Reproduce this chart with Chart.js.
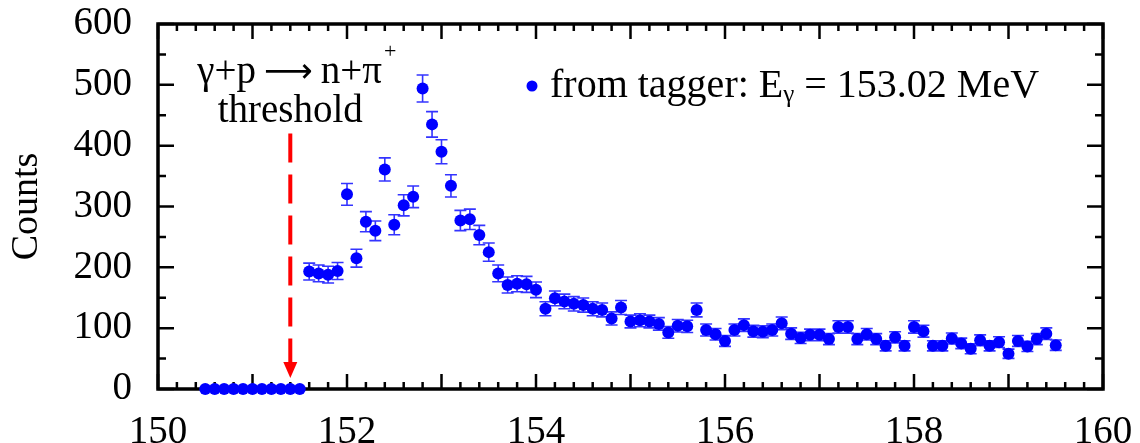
<!DOCTYPE html>
<html><head><meta charset="utf-8">
<script src="https://cdn.jsdelivr.net/npm/chart.js@4"></script>
<style>html,body{margin:0;padding:0;background:#fff;}canvas{display:block}</style>
</head><body>
<canvas id="c" width="1140" height="443"></canvas>
<script>
// ---- data ----
const energies = [
150.5,150.6,150.7,150.8,150.9,151.0,151.1,151.2,151.3,151.4,151.5,
151.6,151.7,151.8,151.9,
152.0,152.1,152.2,152.3,152.4,152.5,152.6,152.7,152.8,152.9,
153.0,153.1,153.2,153.3,153.4,153.5,153.6,153.7,153.8,153.9,
154.0,154.1,154.2,154.3,154.4,154.5,154.6,154.7,154.8,154.9,
155.0,155.1,155.2,155.3,155.4,155.5,155.6,155.7,155.8,155.9,
156.0,156.1,156.2,156.3,156.4,156.5,156.6,156.7,156.8,156.9,
157.0,157.1,157.2,157.3,157.4,157.5,157.6,157.7,157.8,157.9,
158.0,158.1,158.2,158.3,158.4,158.5,158.6,158.7,158.8,158.9,
159.0,159.1,159.2,159.3,159.4,159.5];
const counts = [
0,0,0,0,0,0,0,0,0,0,0,
193,190,188,194,
320,215,275,260,361,270,302,316,494,435,
390,334,277,279,253,225,190,171,173,172,
163,132,149,144,140,138,132,130,116,134,
111,113,111,107,93,104,103,130,97,90,
79,97,105,95,94,97,108,91,84,89,
89,82,102,102,82,90,82,71,85,71,
102,95,71,71,83,75,66,80,71,77,
58,79,70,82,91,72];
const errors = [
0,0,0,0,0,0,0,0,0,0,0,
13.9,13.8,13.7,13.9,
17.9,14.7,16.6,16.1,19.0,16.4,17.4,17.8,22.2,20.9,
19.7,18.3,16.6,16.7,15.9,15.0,13.8,13.1,13.2,13.1,
12.8,11.5,12.2,12.0,11.8,11.7,11.5,11.4,10.8,11.6,
10.5,10.6,10.5,10.3,9.6,10.2,10.1,11.4,9.8,9.5,
8.9,9.8,10.2,9.7,9.7,9.8,10.4,9.5,9.2,9.4,
9.4,9.1,10.1,10.1,9.1,9.5,9.1,8.4,9.2,8.4,
10.1,9.7,8.4,8.4,9.1,8.7,8.1,8.9,8.4,8.8,
7.6,8.9,8.4,9.1,9.5,8.5];
const xTicks = [150,152,154,156,158,160];
const yTicks = [0,100,200,300,400,500,600];
const xMinorStep = 0.2, xMajorStep = 1;
const yMinorStep = 50, yMajorStep = 100;
const thresholdE = 151.4, arrowFrom = 420, arrowTo = 18;
const legendLabel = ['from tagger: E', 'γ', ' = 153.02 MeV'];
const reaction = ['γ+p', '⟶', 'n+π', '+'];
const thresholdLabel = 'threshold';

const FONT = '"Liberation Serif", "Times New Roman", serif';
const ARROWFONT = '"DejaVu Sans", "Liberation Serif", serif';
const BLUE = '#0000ff';
const ERRBLUE = '#3434ff';

const extras = {
  id: 'extras',
  beforeDatasetsDraw(chart) {
    const {ctx, chartArea: a, scales: {x, y}} = chart;
    ctx.save();
    ctx.strokeStyle = '#000';
    ctx.lineWidth = 2.5;
    ctx.beginPath();
    const nx = Math.round((x.max - x.min) / xMinorStep);
    for (let k = 0; k <= nx; k++) {
      const v = x.min + k * xMinorStep;
      const px = x.getPixelForValue(v);
      const major = Math.abs(v / xMajorStep - Math.round(v / xMajorStep)) < 1e-6;
      const L = major ? 15 : 7;
      ctx.moveTo(px, a.bottom); ctx.lineTo(px, a.bottom - L);
      ctx.moveTo(px, a.top); ctx.lineTo(px, a.top + L);
    }
    const ny = Math.round((y.max - y.min) / yMinorStep);
    for (let k = 0; k <= ny; k++) {
      const v = y.min + k * yMinorStep;
      const py = y.getPixelForValue(v);
      const major = v % yMajorStep === 0;
      const L = major ? 16 : 8;
      ctx.moveTo(a.left, py); ctx.lineTo(a.left + L, py);
      ctx.moveTo(a.right, py); ctx.lineTo(a.right - L, py);
    }
    ctx.stroke();
    ctx.lineWidth = 3.5;
    ctx.strokeRect(a.left, a.top, a.right - a.left, a.bottom - a.top);

    // error bars
    ctx.strokeStyle = ERRBLUE;
    ctx.lineWidth = 1.6;
    ctx.beginPath();
    for (let i = 0; i < energies.length; i++) {
      const e = errors[i];
      if (!e) continue;
      const px = x.getPixelForValue(energies[i]);
      const y1 = y.getPixelForValue(counts[i] - e);
      const y2 = y.getPixelForValue(counts[i] + e);
      ctx.moveTo(px, y1); ctx.lineTo(px, y2);
      ctx.moveTo(px - 6, y1); ctx.lineTo(px + 6, y1);
      ctx.moveTo(px - 6, y2); ctx.lineTo(px + 6, y2);
    }
    ctx.stroke();
    ctx.restore();
  },
  afterDatasetsDraw(chart) {
    const {ctx, chartArea: a, scales: {x, y}} = chart;
    ctx.save();
    // threshold arrow
    const px = x.getPixelForValue(thresholdE);
    const yTop = y.getPixelForValue(arrowFrom);
    const yTip = y.getPixelForValue(arrowTo);
    const headH = 16, headW = 7;
    ctx.strokeStyle = '#ff0000';
    ctx.fillStyle = '#ff0000';
    ctx.lineWidth = 4;
    ctx.setLineDash([29, 12]);
    ctx.beginPath();
    ctx.moveTo(px, yTop); ctx.lineTo(px, yTip - headH + 1);
    ctx.stroke();
    ctx.setLineDash([]);
    ctx.beginPath();
    ctx.moveTo(px - headW, yTip - headH);
    ctx.lineTo(px + headW, yTip - headH);
    ctx.lineTo(px, yTip);
    ctx.closePath();
    ctx.fill();

    // reaction label
    ctx.fillStyle = '#000';
    ctx.textBaseline = 'alphabetic';
    ctx.textAlign = 'left';
    let rx = px - 93;
    ctx.font = '39px ' + FONT;
    ctx.fillText(reaction[0], rx, 83);
    rx += ctx.measureText(reaction[0]).width + 8;
    ctx.font = '34px ' + ARROWFONT;
    ctx.fillText(reaction[1], rx, 82);
    rx += ctx.measureText(reaction[1]).width + 8;
    ctx.font = '39px ' + FONT;
    ctx.fillText(reaction[2], rx, 83);
    rx += ctx.measureText(reaction[2]).width;
    ctx.font = '22px ' + FONT;
    ctx.fillText(reaction[3], rx + 2, 58);
    ctx.font = '39px ' + FONT;
    ctx.textAlign = 'center';
    ctx.fillText(thresholdLabel, px, 122);

    // legend
    ctx.fillStyle = BLUE;
    ctx.beginPath();
    ctx.arc(532, 86, 5.5, 0, Math.PI * 2);
    ctx.fill();
    ctx.fillStyle = '#000';
    ctx.textAlign = 'left';
    let lx = 550;
    ctx.font = '40px ' + FONT;
    ctx.fillText(legendLabel[0], lx, 97);
    lx += ctx.measureText(legendLabel[0]).width;
    ctx.font = '25px ' + FONT;
    ctx.fillText(legendLabel[1], lx, 102);
    lx += ctx.measureText(legendLabel[1]).width;
    ctx.font = '40px ' + FONT;
    ctx.fillText(legendLabel[2], lx, 97);
    ctx.restore();
  }
};

new Chart(document.getElementById('c'), {
  type: 'scatter',
  data: {
    datasets: [{
      label: 'from tagger',
      data: energies.map((e, i) => ({x: e, y: counts[i]})),
      backgroundColor: BLUE,
      pointBackgroundColor: BLUE,
      pointBorderWidth: 0,
      pointRadius: 6,
      pointHoverRadius: 6,
      clip: false
    }]
  },
  options: {
    responsive: false,
    animation: false,
    devicePixelRatio: 1,
    layout: {padding: {top: 24, right: 37, left: 0, bottom: 0}},
    plugins: {legend: {display: false}, tooltip: {enabled: false}},
    scales: {
      x: {
        type: 'linear', min: 150, max: 160,
        afterBuildTicks: s => { s.ticks = xTicks.map(v => ({value: v})); },
        afterFit: s => { s.height = 54; s.paddingLeft = 0; s.paddingRight = 0; },
        grid: {display: false, drawTicks: false},
        border: {display: false},
        ticks: {color: '#000', padding: 20, maxRotation: 0, font: {family: FONT, size: 39}}
      },
      y: {
        type: 'linear', min: 0, max: 600,
        afterBuildTicks: s => { s.ticks = yTicks.map(v => ({value: v})); },
        afterFit: s => { s.width = 158; s.paddingTop = 0; s.paddingBottom = 0; },
        grid: {display: false, drawTicks: false},
        border: {display: false},
        title: {display: true, text: 'Counts', color: '#000', padding: {top: 4, bottom: 0}, font: {family: FONT, size: 38}},
        ticks: {color: '#000', padding: 26, font: {family: FONT, size: 39}}
      }
    }
  },
  plugins: [extras]
});
</script>
</body></html>
